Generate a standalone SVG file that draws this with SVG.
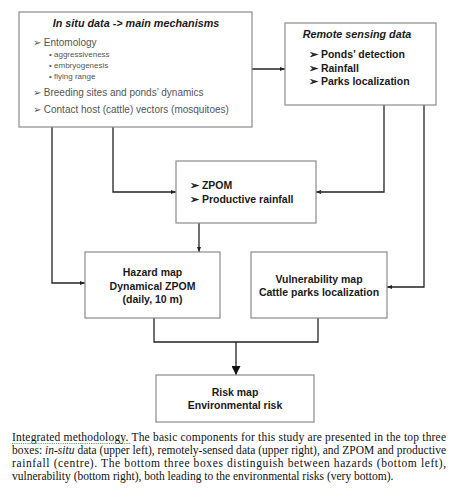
<svg xmlns="http://www.w3.org/2000/svg" width="456" height="489" viewBox="0 0 456 489">
<style>
.box{fill:#fff;stroke:#8a8a8a;stroke-width:1.2}
.c{fill:none;stroke:#222;stroke-width:1.3}
.t{font-family:"Liberation Sans",Arial,sans-serif;font-size:10.5px;fill:#1a1a1a}
.b{font-weight:bold}
.bi{font-weight:bold;font-style:italic;font-size:10.8px}
.g{fill:#555;font-size:10px}
.s{fill:#555;font-size:8px}
.cap{font-family:"Liberation Serif","Times New Roman",serif;font-size:11.5px;fill:#111}
</style>
<defs>
<marker id="a" viewBox="0 0 10 10" refX="10" refY="5" markerWidth="5" markerHeight="5" orient="auto" markerUnits="userSpaceOnUse"><path d="M0,1 L10,5 L0,9 z" fill="#222"/></marker>
<marker id="A" viewBox="0 0 10 10" refX="10" refY="5" markerWidth="9" markerHeight="9" orient="auto" markerUnits="userSpaceOnUse"><path d="M0,0 L10,5 L0,10 z" fill="#111"/></marker>
</defs>
<rect width="456" height="489" fill="#fff"/>
<g id="connectors">
<path class="c" d="M252,69 H285" marker-end="url(#a)"/>
<path class="c" d="M113,127 V192 H176" marker-end="url(#a)"/>
<path class="c" d="M384,105 V192 H316" marker-end="url(#a)"/>
<path class="c" d="M52,127 V283 H85" marker-end="url(#a)"/>
<path class="c" d="M424,105 V287 H387" marker-end="url(#a)"/>
<path class="c" d="M199,223 V252" marker-end="url(#a)"/>
<path class="c" d="M154,318 V342 H318 V318"/>
<path class="c" d="M236,342 V375" stroke-width="1.8" marker-end="url(#A)"/>
</g>
<g id="insitu">
<rect class="box" x="19" y="12" width="233" height="115"/>
<text class="t bi" x="136" y="27" text-anchor="middle">In situ data -&gt; main mechanisms</text>
<text class="t g" x="33" y="46">➢ Entomology</text>
<text class="t s" x="49" y="57">• aggressiveness</text>
<text class="t s" x="49" y="68">• embryogenesis</text>
<text class="t s" x="49" y="79">• flying range</text>
<text class="t g" x="33" y="96">➢ Breeding sites and ponds’ dynamics</text>
<text class="t g" x="33" y="113">➢ Contact host (cattle) vectors (mosquitoes)</text>
</g>
<g id="remote">
<rect class="box" x="285" y="23" width="151" height="82"/>
<text class="t bi" x="357" y="38" text-anchor="middle">Remote sensing data</text>
<text class="t b" x="309" y="58">➢ Ponds’ detection</text>
<text class="t b" x="309" y="72">➢ Rainfall</text>
<text class="t b" x="309" y="85">➢ Parks localization</text>
</g>
<g id="zpom">
<rect class="box" x="176" y="161" width="140" height="62"/>
<text class="t b" x="190" y="189">➢ ZPOM</text>
<text class="t b" x="190" y="203">➢ Productive rainfall</text>
</g>
<g id="hazard">
<rect class="box" x="85" y="252" width="135" height="66"/>
<text class="t b" x="152.5" y="276" text-anchor="middle">Hazard map</text>
<text class="t b" x="152.5" y="290" text-anchor="middle">Dynamical ZPOM</text>
<text class="t b" x="152.5" y="303" text-anchor="middle">(daily, 10 m)</text>
</g>
<g id="vulnerability">
<rect class="box" x="251" y="252" width="136" height="66"/>
<text class="t b" x="319" y="283" text-anchor="middle">Vulnerability map</text>
<text class="t b" x="319" y="296" text-anchor="middle">Cattle parks localization</text>
</g>
<g id="risk">
<rect class="box" x="156" y="375" width="158" height="47"/>
<text class="t b" x="235" y="396" text-anchor="middle">Risk map</text>
<text class="t b" x="235" y="409" text-anchor="middle">Environmental risk</text>
</g>
<g id="caption">
<text class="cap" x="12" y="441" textLength="434" lengthAdjust="spacing">Integrated methodology. The basic components for this study are presented in the top three</text>
<text class="cap" x="12" y="454" textLength="434" lengthAdjust="spacing">boxes: <tspan font-style="italic">in-situ</tspan> data (upper left), remotely-sensed data (upper right), and ZPOM and productive</text>
<text class="cap" x="12" y="467" textLength="434" lengthAdjust="spacing">rainfall (centre). The bottom three boxes distinguish between hazards (bottom left),</text>
<text class="cap" x="12" y="480">vulnerability (bottom right), both leading to the environmental risks (very bottom).</text>
<path d="M12,443.5 H131" stroke="#4a8a4a" stroke-width="0.8" stroke-dasharray="1.2,1"/>
</g>
</svg>
